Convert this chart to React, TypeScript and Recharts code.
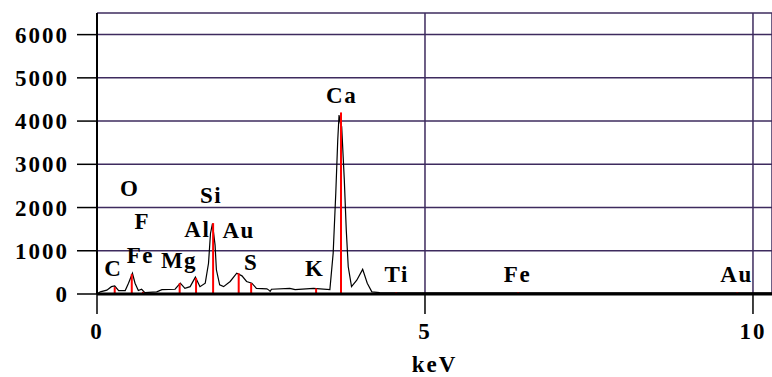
import React from "react";
import {
  ComposedChart,
  Line,
  Scatter,
  XAxis,
  YAxis,
  CartesianGrid,
  ReferenceLine,
  Label,
} from "recharts";

// EDS spectrum trace (keV / counts)
const energy = [
  0, 0.05, 0.15, 0.22, 0.27, 0.33, 0.43, 0.48, 0.54, 0.58, 0.63, 0.68, 0.73,
  0.91, 0.99, 1.19, 1.27, 1.34, 1.42, 1.5, 1.57, 1.65, 1.7, 1.73, 1.76, 1.8,
  1.82, 1.87, 1.93, 2.03, 2.13, 2.21, 2.28, 2.36, 2.43, 2.59, 2.62, 2.64, 2.66,
  2.94, 3.02, 3.3, 3.55, 3.6, 3.64, 3.67, 3.69, 3.71, 3.73, 3.77, 3.8, 3.83,
  3.88, 3.96, 4.05, 4.12, 4.19, 4.31, 5, 6, 7, 8, 9, 10, 10.29,
];
const counts = [
  0, 50, 90, 170, 185, 80, 80, 250, 480, 250, 80, 110, 30, 50, 100, 110, 250,
  130, 170, 390, 170, 250, 710, 1400, 1630, 1130, 560, 210, 170, 290, 480, 420,
  290, 250, 130, 120, 90, 60, 110, 130, 100, 130, 100, 940, 2330, 3560, 4140,
  3950, 3870, 2640, 1480, 630, 170, 320, 570, 250, 50, 30, 25, 25, 25, 25, 25,
  25, 25,
];

// element marker lines
const markerKev = [0.27, 0.53, 0.7, 1.26, 1.51, 1.77, 2.16, 2.35, 3.34, 3.72, 4.56, 6.42, 9.76];
const markerHeight = [160, 460, 50, 250, 370, 1640, 480, 250, 130, 4200, 40, 40, 40];

// element labels
const labelText = ["C", "Fe", "F", "O", "Mg", "Al", "Si", "Au", "S", "K", "Ca", "Ti", "Fe", "Au"];
const labelKev = [0.25, 0.66, 0.69, 0.5, 1.25, 1.53, 1.74, 2.16, 2.35, 3.32, 3.73, 4.57, 6.41, 9.75];
const labelLevel = [600, 900, 1670, 2450, 780, 1500, 2290, 1480, 740, 580, 4600, 440, 440, 440];

const xTicks = [0, 5, 10];
const yTicks = [0, 1000, 2000, 3000, 4000, 5000, 6000];

const data = energy.map((e, i) => ({ e, c: counts[i] }));
const labels = labelText.map((t, i) => ({ e: labelKev[i], c: labelLevel[i], t }));

const font = "'Liberation Serif', 'Times New Roman', serif";
const tickStyle = {
  fontFamily: font,
  fontWeight: 700,
  fontSize: 23,
  letterSpacing: 2,
  fill: "#000",
};
const gridColor = "#3d2b5e";

const ElementLabel = (props: any) => (
  <text
    x={props.cx}
    y={props.cy}
    textAnchor="middle"
    dominantBaseline="central"
    fontFamily={font}
    fontWeight={700}
    fontSize={23}
    letterSpacing={1.5}
    fill="#000"
  >
    {props.payload.t}
  </text>
);

export default function App() {
  return (
    <div style={{ position: "absolute", left: 0, top: 0, background: "#fff" }}>
      <ComposedChart
        width={772}
        height={377}
        data={data}
        margin={{ top: 13, right: 0, bottom: 0, left: 0 }}
      >
        <CartesianGrid stroke={gridColor} strokeWidth={1.5} />
        <XAxis
          type="number"
          dataKey="e"
          domain={[0, 10.29]}
          ticks={xTicks}
          height={83}
          tickSize={20}
          tickMargin={9}
          tick={tickStyle}
          axisLine={{ stroke: "#000", strokeWidth: 3 }}
          tickLine={{ stroke: "#000", strokeWidth: 1.5 }}
        >
          <Label
            value="keV"
            position="insideBottom"
            offset={5}
            style={{ fontFamily: font, fontWeight: 700, fontSize: 23, letterSpacing: 2, fill: "#000" }}
          />
        </XAxis>
        <YAxis
          type="number"
          domain={[0, 6500]}
          ticks={yTicks}
          width={97}
          tickSize={20}
          tickMargin={8}
          tick={tickStyle}
          axisLine={{ stroke: "#000", strokeWidth: 2 }}
          tickLine={{ stroke: "#000", strokeWidth: 1.5 }}
        />
        <Line
          type="linear"
          dataKey="c"
          stroke="#000"
          strokeWidth={1.2}
          dot={false}
          isAnimationActive={false}
        />
        {markerKev.map((k, i) => (
          <ReferenceLine
            key={i}
            segment={[
              { x: k, y: 0 },
              { x: k, y: markerHeight[i] },
            ]}
            stroke="#ff0000"
            strokeWidth={2}
          />
        ))}
        <Scatter data={labels} dataKey="c" shape={ElementLabel} isAnimationActive={false} />
      </ComposedChart>
    </div>
  );
}
